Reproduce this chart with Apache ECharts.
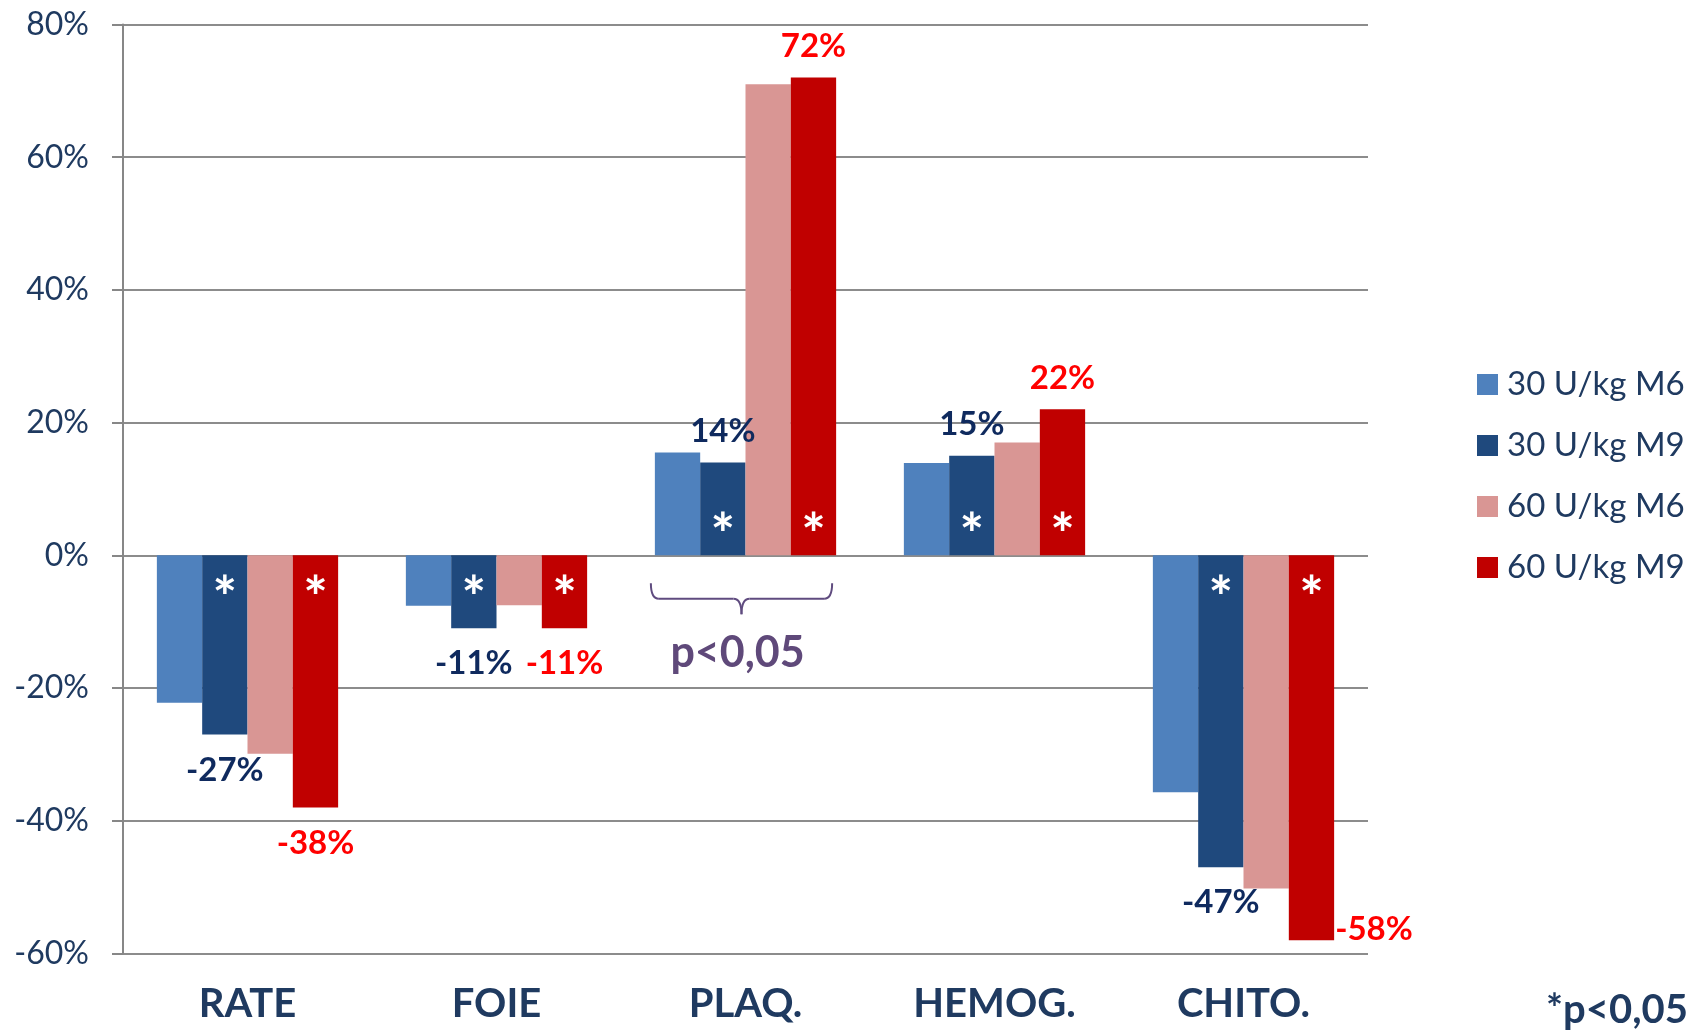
<!DOCTYPE html>
<html>
<head>
<meta charset="utf-8">
<script src="https://cdn.jsdelivr.net/npm/echarts@6/dist/echarts.min.js"></script>
<style>
  html, body { margin: 0; padding: 0; background: #ffffff; }
  #chart { width: 1699px; height: 1031px; }
</style>
</head>
<body>
<div id="chart"></div>
<script>
// Variation (%) per parameter and dose group
const categories = ['RATE', 'FOIE', 'PLAQ.', 'HEMOG.', 'CHITO.'];
const seriesNames = ['30 U/kg M6', '30 U/kg M9', '60 U/kg M6', '60 U/kg M9'];
const dose30M6 = [-22.2, -7.6, 15.5, 13.9, -35.7];
const dose30M9 = [-27, -11, 14, 15, -47];
const dose60M6 = [-29.9, -7.5, 71.0, 17.0, -50.2];
const dose60M9 = [-38, -11, 72, 22, -58];
// significance stars (p<0,05) drawn inside the M9 bars
const star30M9 = [true, true, true, true, true];
const star60M9 = [true, true, true, true, true];
const yTicks = [-60, -40, -20, 0, 20, 40, 60, 80];
const bracedCategory = 'PLAQ.';
const bracedNote = 'p<0,05';
const footNote = '*p<0,05';

const NAVY = '#1F3A60';
const FONT = 'Lato, "Open Sans", sans-serif';
const GAP = 0.272;

const chart = echarts.init(document.getElementById('chart'), null, { renderer: 'canvas' });

function valueItems(values, labelled, lastBeside) {
  return values.map((v, i) => {
    const item = { value: v };
    if (labelled) {
      if (lastBeside && i === values.length - 1) {
        item.label = { show: true, position: ['100%', '100%'], align: 'left', verticalAlign: 'bottom', offset: [1, 6], distance: 0 };
      } else {
        item.label = { show: true, position: v < 0 ? 'bottom' : 'top', distance: v < 0 ? 19 : 15 };
      }
    }
    return item;
  });
}

function starMarks(values, flags) {
  const out = [];
  values.forEach((v, i) => {
    if (flags[i]) {
      out.push({ coord: [categories[i], 0], label: { offset: [0, v < 0 ? 44 : -19] } });
    }
  });
  return out;
}

function starMarkPoint(values, flags) {
  return {
    symbol: 'circle',
    symbolSize: 1,
    itemStyle: { color: 'rgba(0,0,0,0)' },
    silent: true,
    label: {
      show: true, position: 'inside', formatter: '*',
      color: '#ffffff', fontFamily: FONT, fontWeight: 'bold', fontSize: 58
    },
    data: starMarks(values, flags)
  };
}

const valueLabelStyle = (color) => ({
  formatter: '{c}%', color: color, fontFamily: FONT, fontWeight: 'bold', fontSize: 33
});

const colors = ['#4F81BD', '#1F497D', '#D99694', '#C00000'];

chart.setOption({
  animation: false,
  backgroundColor: '#ffffff',
  color: colors,
  grid: { left: 123, right: 331, top: 24.5, bottom: 77.5, containLabel: false },
  legend: {
    orient: 'vertical',
    left: 1472,
    top: 363,
    itemWidth: 21,
    itemHeight: 21,
    itemGap: 28,
    icon: 'rect',
    selectedMode: false,
    textStyle: { color: NAVY, fontFamily: FONT, fontSize: 33, padding: [0, 0, 0, 4] },
    data: seriesNames
  },
  xAxis: {
    type: 'category',
    data: categories,
    axisLine: { show: false, onZero: false },
    axisTick: { show: false },
    splitLine: { show: false },
    axisLabel: { color: NAVY, fontFamily: FONT, fontWeight: 'bold', fontSize: 40, margin: 31 }
  },
  yAxis: {
    type: 'value',
    min: yTicks[0],
    max: yTicks[yTicks.length - 1],
    interval: yTicks[1] - yTicks[0],
    axisLine: { show: true, lineStyle: { color: '#878787', width: 2 } },
    axisTick: { show: true, length: 11, lineStyle: { color: '#878787', width: 2 } },
    splitLine: { show: true, lineStyle: { color: '#8C8C8C', width: 2 } },
    axisLabel: { formatter: '{value}%', color: NAVY, fontFamily: FONT, fontSize: 32, margin: 34 }
  },
  series: [
    {
      name: seriesNames[0], type: 'bar', barGap: '0%', barCategoryGap: (GAP * 100) + '%',
      data: valueItems(dose30M6, false)
    },
    {
      name: seriesNames[1], type: 'bar', barGap: '0%', barCategoryGap: (GAP * 100) + '%',
      label: valueLabelStyle('#0F2A5E'),
      data: valueItems(dose30M9, true, false),
      markPoint: starMarkPoint(dose30M9, star30M9)
    },
    {
      name: seriesNames[2], type: 'bar', barGap: '0%', barCategoryGap: (GAP * 100) + '%',
      data: valueItems(dose60M6, false)
    },
    {
      name: seriesNames[3], type: 'bar', barGap: '0%', barCategoryGap: (GAP * 100) + '%',
      label: valueLabelStyle('#FF0000'),
      data: valueItems(dose60M9, true, true),
      markPoint: starMarkPoint(dose60M9, star60M9)
    }
  ]
});

// Brace under the braced category group, with its note
const zeroY = chart.convertToPixel({ yAxisIndex: 0 }, 0);
const cx = chart.convertToPixel({ xAxisIndex: 0 }, bracedCategory);
const band = chart.convertToPixel({ xAxisIndex: 0 }, categories[1]) - chart.convertToPixel({ xAxisIndex: 0 }, categories[0]);
const half = band * (1 - GAP) / 2;
const L = cx - half - 4, R = cx + half - 4, C = (L + R) / 2;
const y0 = zeroY + 28, y1 = zeroY + 43.5, y2 = zeroY + 59;
const braceStroke = { stroke: '#5F4B7F', lineWidth: 2, fill: 'none' };
const curve = (x1, yA, cpx, cpy, x2, yB) => ({
  type: 'bezierCurve', silent: true,
  shape: { x1: x1, y1: yA, cpx1: cpx, cpy1: cpy, x2: x2, y2: yB },
  style: braceStroke
});
const seg = (x1, yA, x2, yB) => ({
  type: 'line', silent: true,
  shape: { x1: x1, y1: yA, x2: x2, y2: yB },
  style: braceStroke
});

chart.setOption({
  graphic: [
    curve(L, y0, L, y1, L + 8, y1),
    seg(L + 8, y1, C - 8, y1),
    curve(C - 8, y1, C, y1, C, y2),
    curve(C, y2, C, y1, C + 8, y1),
    seg(C + 8, y1, R - 8, y1),
    curve(R - 8, y1, R, y1, R, y0),
    {
      type: 'text', silent: true,
      x: C - 4, y: zeroY + 98,
      style: {
        text: bracedNote, fill: '#5F497A', font: 'bold 43px ' + FONT,
        textAlign: 'center', textVerticalAlign: 'middle'
      }
    },
    {
      type: 'text', silent: true,
      x: 1688, y: 1010,
      style: {
        text: footNote, fill: NAVY, font: 'bold 40px ' + FONT,
        textAlign: 'right', textVerticalAlign: 'middle'
      }
    }
  ]
});
</script>
</body>
</html>
